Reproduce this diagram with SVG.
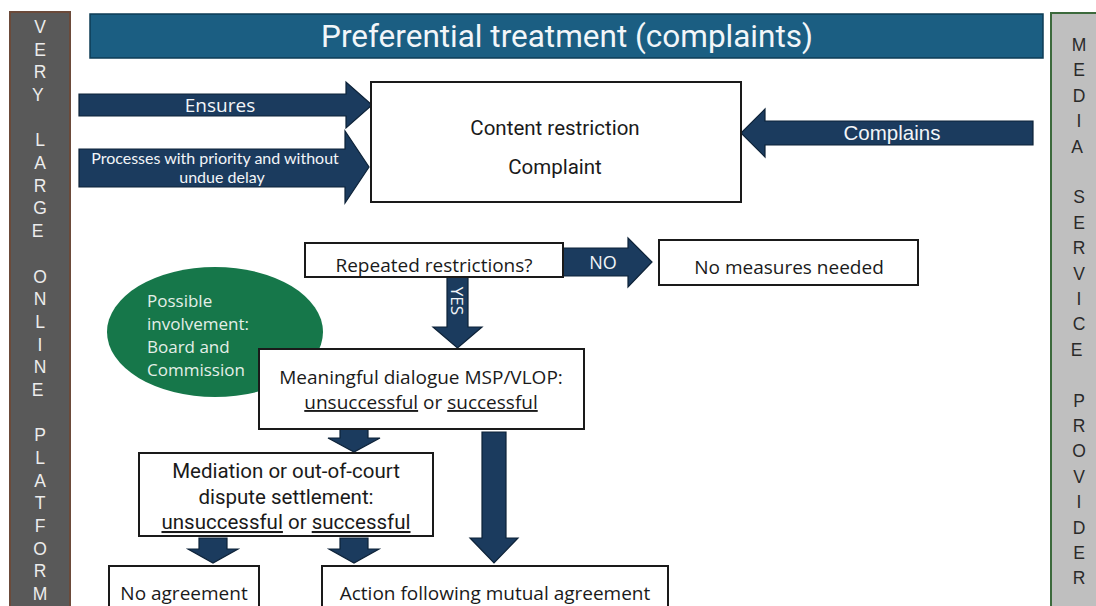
<svg xmlns="http://www.w3.org/2000/svg" width="1096" height="606" viewBox="0 0 1096 606">
<style>
.arrow{fill:#1b3b5e;stroke:#0d2238;stroke-width:1.2}
.box{fill:#fff;stroke:#1a1a1a;stroke-width:2}
.t{font-family:"Open Sans","Noto Sans",sans-serif;font-size:19px;fill:#1a1a1a;text-anchor:middle}
.d{font-family:Roboto,"Liberation Sans",sans-serif;font-size:20.5px;fill:#1a1a1a;text-anchor:middle}
.w{fill:#f2f5f8}
.lv{font-family:"Liberation Sans",Arial,sans-serif;font-size:17.5px;text-anchor:middle}
.u{text-decoration:underline}
</style>
<rect width="1096" height="606" fill="#fff"/>

<g id="vlop-bar">
<rect x="10" y="12" width="60" height="600" fill="#595959" stroke="#6b4a3a" stroke-width="2"/>
<text class="lv" fill="#ececec">
<tspan x="40" y="33">V</tspan><tspan x="40" y="55.7">E</tspan><tspan x="40" y="78.4">R</tspan><tspan x="40" y="101">Y</tspan>
<tspan x="40" y="146.4">L</tspan><tspan x="40" y="169.1">A</tspan><tspan x="40" y="191.8">R</tspan><tspan x="40" y="214.4">G</tspan><tspan x="40" y="237.1">E</tspan>
<tspan x="40" y="282.5">O</tspan><tspan x="40" y="305.2">N</tspan><tspan x="40" y="327.8">L</tspan><tspan x="40" y="350.5">I</tspan><tspan x="40" y="373.2">N</tspan><tspan x="40" y="395.9">E</tspan>
<tspan x="40" y="441.2">P</tspan><tspan x="40" y="463.9">L</tspan><tspan x="40" y="486.6">A</tspan><tspan x="40" y="509.3">T</tspan><tspan x="40" y="532">F</tspan><tspan x="40" y="554.6">O</tspan><tspan x="40" y="577.3">R</tspan><tspan x="40" y="600">M</tspan>
</text>
</g>

<g id="msp-bar">
<rect x="1051" y="13" width="60" height="600" fill="#bfbfbf" stroke="#3c6a3c" stroke-width="2"/>
<text class="lv" fill="#2a2a2a">
<tspan x="1079" y="51">M</tspan><tspan x="1079" y="76.4">E</tspan><tspan x="1079" y="101.8">D</tspan><tspan x="1079" y="127.2">I</tspan><tspan x="1079" y="152.6">A</tspan>
<tspan x="1079" y="203.4">S</tspan><tspan x="1079" y="228.8">E</tspan><tspan x="1079" y="254.2">R</tspan><tspan x="1079" y="279.6">V</tspan><tspan x="1079" y="305">I</tspan><tspan x="1079" y="330.4">C</tspan><tspan x="1079" y="355.8">E</tspan>
<tspan x="1079" y="406.6">P</tspan><tspan x="1079" y="432">R</tspan><tspan x="1079" y="457.4">O</tspan><tspan x="1079" y="482.8">V</tspan><tspan x="1079" y="508.2">I</tspan><tspan x="1079" y="533.6">D</tspan><tspan x="1079" y="559">E</tspan><tspan x="1079" y="584.4">R</tspan>
</text>
</g>

<g id="title">
<rect x="90" y="14" width="953" height="44" fill="#1b5e82" stroke="#0e3d56" stroke-width="1.5"/>
<text x="567" y="47" font-family="Roboto,'Liberation Sans',sans-serif" font-size="31.5" fill="#f2f6f9" text-anchor="middle">Preferential treatment (complaints)</text>
</g>

<g id="connectors">
<path class="arrow" d="M79,94 H346 V82 L372,105 L346,128 V116 H79 Z"/>
<path class="arrow" d="M79,149 H345 V131 L369,167 L345,203 V187 H79 Z"/>
<path class="arrow" d="M1033,121 H765 V109 L741,133 L765,157 V145 H1033 Z"/>
<path class="arrow" d="M563,248 H628 V238 L652,262 L628,287 V276 H563 Z"/>
<path class="arrow" d="M447,277 H468 V327 H482 L457.5,348 L433,327 H447 Z"/>
<path class="arrow" d="M340,429 H368 V438 H380 L354,452 L328,438 H340 Z"/>
<path class="arrow" d="M482,432 H506 V538 H518 L494,563 L470,538 H482 Z"/>
<path class="arrow" d="M199,538 H227 V549 H238 L213,563 L188,549 H199 Z"/>
<path class="arrow" d="M340,538 H368 V549 H379 L354,563 L329,549 H340 Z"/>
<text x="220" y="112" font-family="'Open Sans',sans-serif" font-size="19" class="w" text-anchor="middle">Ensures</text>
<text font-family="Lato,'Open Sans',sans-serif" font-size="16" class="w" text-anchor="middle"><tspan x="215" y="164">Processes with priority and without</tspan><tspan x="222" y="183">undue delay</tspan></text>
<text x="892" y="140" font-family="'Liberation Sans',Arial,sans-serif" font-size="20.5" class="w" text-anchor="middle">Complains</text>
<text x="603" y="269" font-family="'Open Sans',sans-serif" font-size="18" class="w" text-anchor="middle">NO</text>
<text transform="translate(451,301) rotate(90)" font-family="'Open Sans',sans-serif" font-size="17" class="w" text-anchor="middle">YES</text>
</g>

<g id="content-box">
<rect class="box" x="371" y="82" width="370" height="120"/>
<text class="d" x="555" y="135">Content restriction</text>
<text class="d" x="555" y="174">Complaint</text>
</g>

<g id="repeated">
<rect class="box" x="305" y="243" width="258" height="34"/>
<text class="t" x="434" y="272">Repeated restrictions?</text>
</g>

<g id="no-measures">
<rect class="box" x="659" y="240" width="259" height="45"/>
<text class="t" x="789" y="274">No measures needed</text>
</g>

<g id="involvement">
<ellipse cx="215" cy="332" rx="108" ry="65" fill="#16774a"/>
<text font-family="'Open Sans',sans-serif" font-size="17" fill="#e4efe8"><tspan x="147" y="307">Possible</tspan><tspan x="147" y="330">involvement:</tspan><tspan x="147" y="353">Board and</tspan><tspan x="147" y="376">Commission</tspan></text>
</g>

<g id="dialogue">
<rect class="box" x="259" y="349" width="325" height="80"/>
<text class="t" x="421" y="384" font-size="21">Meaningful dialogue MSP/VLOP:</text>
<text class="t" x="421" y="409" font-size="21"><tspan class="u">unsuccessful</tspan> or <tspan class="u">successful</tspan></text>
</g>

<g id="mediation">
<rect class="box" x="139" y="453" width="294" height="83"/>
<text class="d" font-size="21"><tspan x="286" y="478">Mediation or out-of-court</tspan><tspan x="286" y="504">dispute settlement:</tspan><tspan x="286" y="529"><tspan class="u">unsuccessful</tspan> or <tspan class="u">successful</tspan></tspan></text>
</g>

<g id="no-agreement">
<rect class="box" x="109" y="566" width="150" height="50"/>
<text class="t" x="184" y="600" font-size="20">No agreement</text>
</g>

<g id="action">
<rect class="box" x="322" y="566" width="346" height="50"/>
<text class="t" x="495" y="600" font-size="20.7">Action following mutual agreement</text>
</g>
</svg>
